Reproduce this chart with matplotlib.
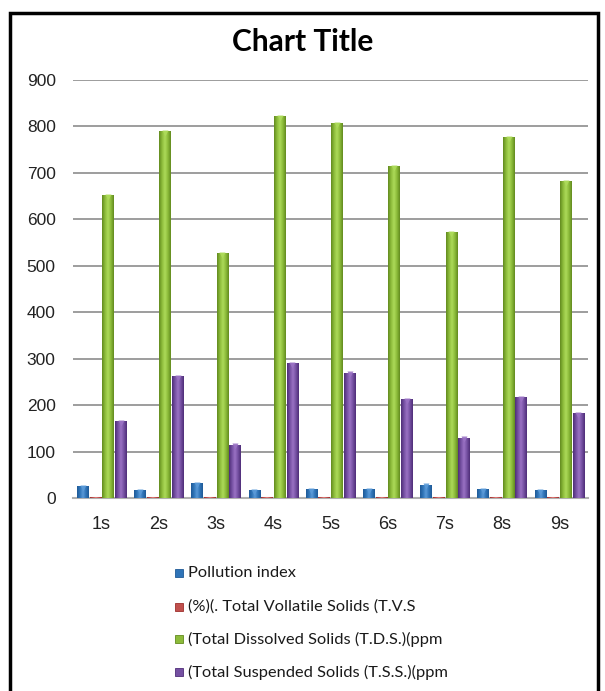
import matplotlib.pyplot as plt
import numpy as np
from matplotlib.colors import LinearSegmentedColormap
from matplotlib.patches import Rectangle

samples = ['1s', '2s', '3s', '4s', '5s', '6s', '7s', '8s', '9s']
pollution_index = [26, 17, 33, 17, 20, 20, 29, 20, 17]
tvs_percent = [1.5, 1.5, 1.5, 1.5, 1.5, 1.5, 1.5, 1.5, 1.5]
tds_ppm = [653, 790, 527, 822, 808, 714, 573, 778, 682]
tss_ppm = [165, 262, 115, 290, 270, 213, 130, 217, 183]

series_names = ['Pollution index',
                '(%)(. Total Vollatile Solids (T.V.S',
                '(Total Dissolved Solids (T.D.S.)(ppm',
                '(Total Suspended Solids (T.S.S.)(ppm']
series_vals = [pollution_index, tvs_percent, tds_ppm, tss_ppm]
# dark edge, light centre, mid
series_cols = [('#1f5a96', '#5a9ad8', '#2f74b8'),
               ('#9e2f2c', '#e07a77', '#c0504d'),
               ('#628a1e', '#addb5a', '#8cbb3a'),
               ('#4f2d78', '#9a72c4', '#7550a2')]

fig = plt.figure(figsize=(6.05, 6.91), dpi=100)
W, H = 605, 691
ax = fig.add_axes([73 / W, 1 - 498 / H, (588 - 73) / W, (498 - 80) / H])

x = np.arange(len(samples))
width = 0.2
step = 0.222
offsets = [-1.5 * step, -0.5 * step, 0.5 * step, 1.5 * step]

for vals, off, cols in zip(series_vals, offsets, series_cols):
    cmap = LinearSegmentedColormap.from_list('g', [cols[0], cols[2], cols[1], cols[2], cols[0]])
    grad = np.linspace(0, 1, 64).reshape(1, -1)
    bars = ax.bar(x + off, vals, width, color=cols[2], zorder=3, linewidth=0)
    for b in bars:
        bx, by = b.get_x(), b.get_y()
        bw, bh = b.get_width(), b.get_height()
        im = ax.imshow(grad, cmap=cmap, aspect='auto', extent=(bx, bx + bw, by, by + bh),
                       zorder=3.5, interpolation='bilinear')
        im.set_clip_path(b)
        if bh > 5:
            ax.plot(bx + bw / 2, by + bh - 4, marker='v', ms=5, color=cols[1],
                    mec='none', alpha=0.9, zorder=4)

ax.set_xlim(-0.5, len(samples) - 0.5)
ax.set_ylim(0, 900)
ax.set_yticks(range(0, 901, 100))
ax.set_xticks(x)
ax.set_xticklabels(samples)
ax.yaxis.grid(True, color='#8c8c8c', linewidth=1.2, zorder=0)
ax.set_axisbelow(True)
for s in ['top', 'right', 'left']:
    ax.spines[s].set_visible(False)
ax.spines['bottom'].set_color('#b0b0b0')
ax.spines['bottom'].set_linewidth(1.5)
ax.tick_params(axis='y', length=0, labelsize=12.5, colors='#222222', pad=12.5)
ax.tick_params(axis='x', length=0, labelsize=13, colors='#222222', pad=13)
for lab in ax.get_xticklabels() + ax.get_yticklabels():
    lab.set_fontfamily('Liberation Sans')

fig.text(303 / W, 1 - 42 / H, 'Chart Title', ha='center', va='center',
         fontsize=21.5, fontweight='bold', family='Lato')

# legend drawn as a column of labelled squares
rows_y = [573, 607, 639, 672]
for name, cols, ry in zip(series_names, series_cols, rows_y):
    fig.patches.append(Rectangle((175 / W, 1 - (ry + 4) / H), 8 / W, 8 / H,
                                 transform=fig.transFigure, facecolor=cols[2],
                                 edgecolor=cols[0], linewidth=0.6))
    fig.text(188 / W, 1 - ry / H, name, ha='left', va='center', fontsize=11.8,
             family='Lato', color='#1a1a1a')

# outer frame
fig.patches.append(Rectangle((10 / W, -0.05), (598 - 10) / W, 1.05 - 13 / H,
                             transform=fig.transFigure, fill=False,
                             edgecolor='black', linewidth=2.5))

plt.savefig('out.png', dpi=100)
